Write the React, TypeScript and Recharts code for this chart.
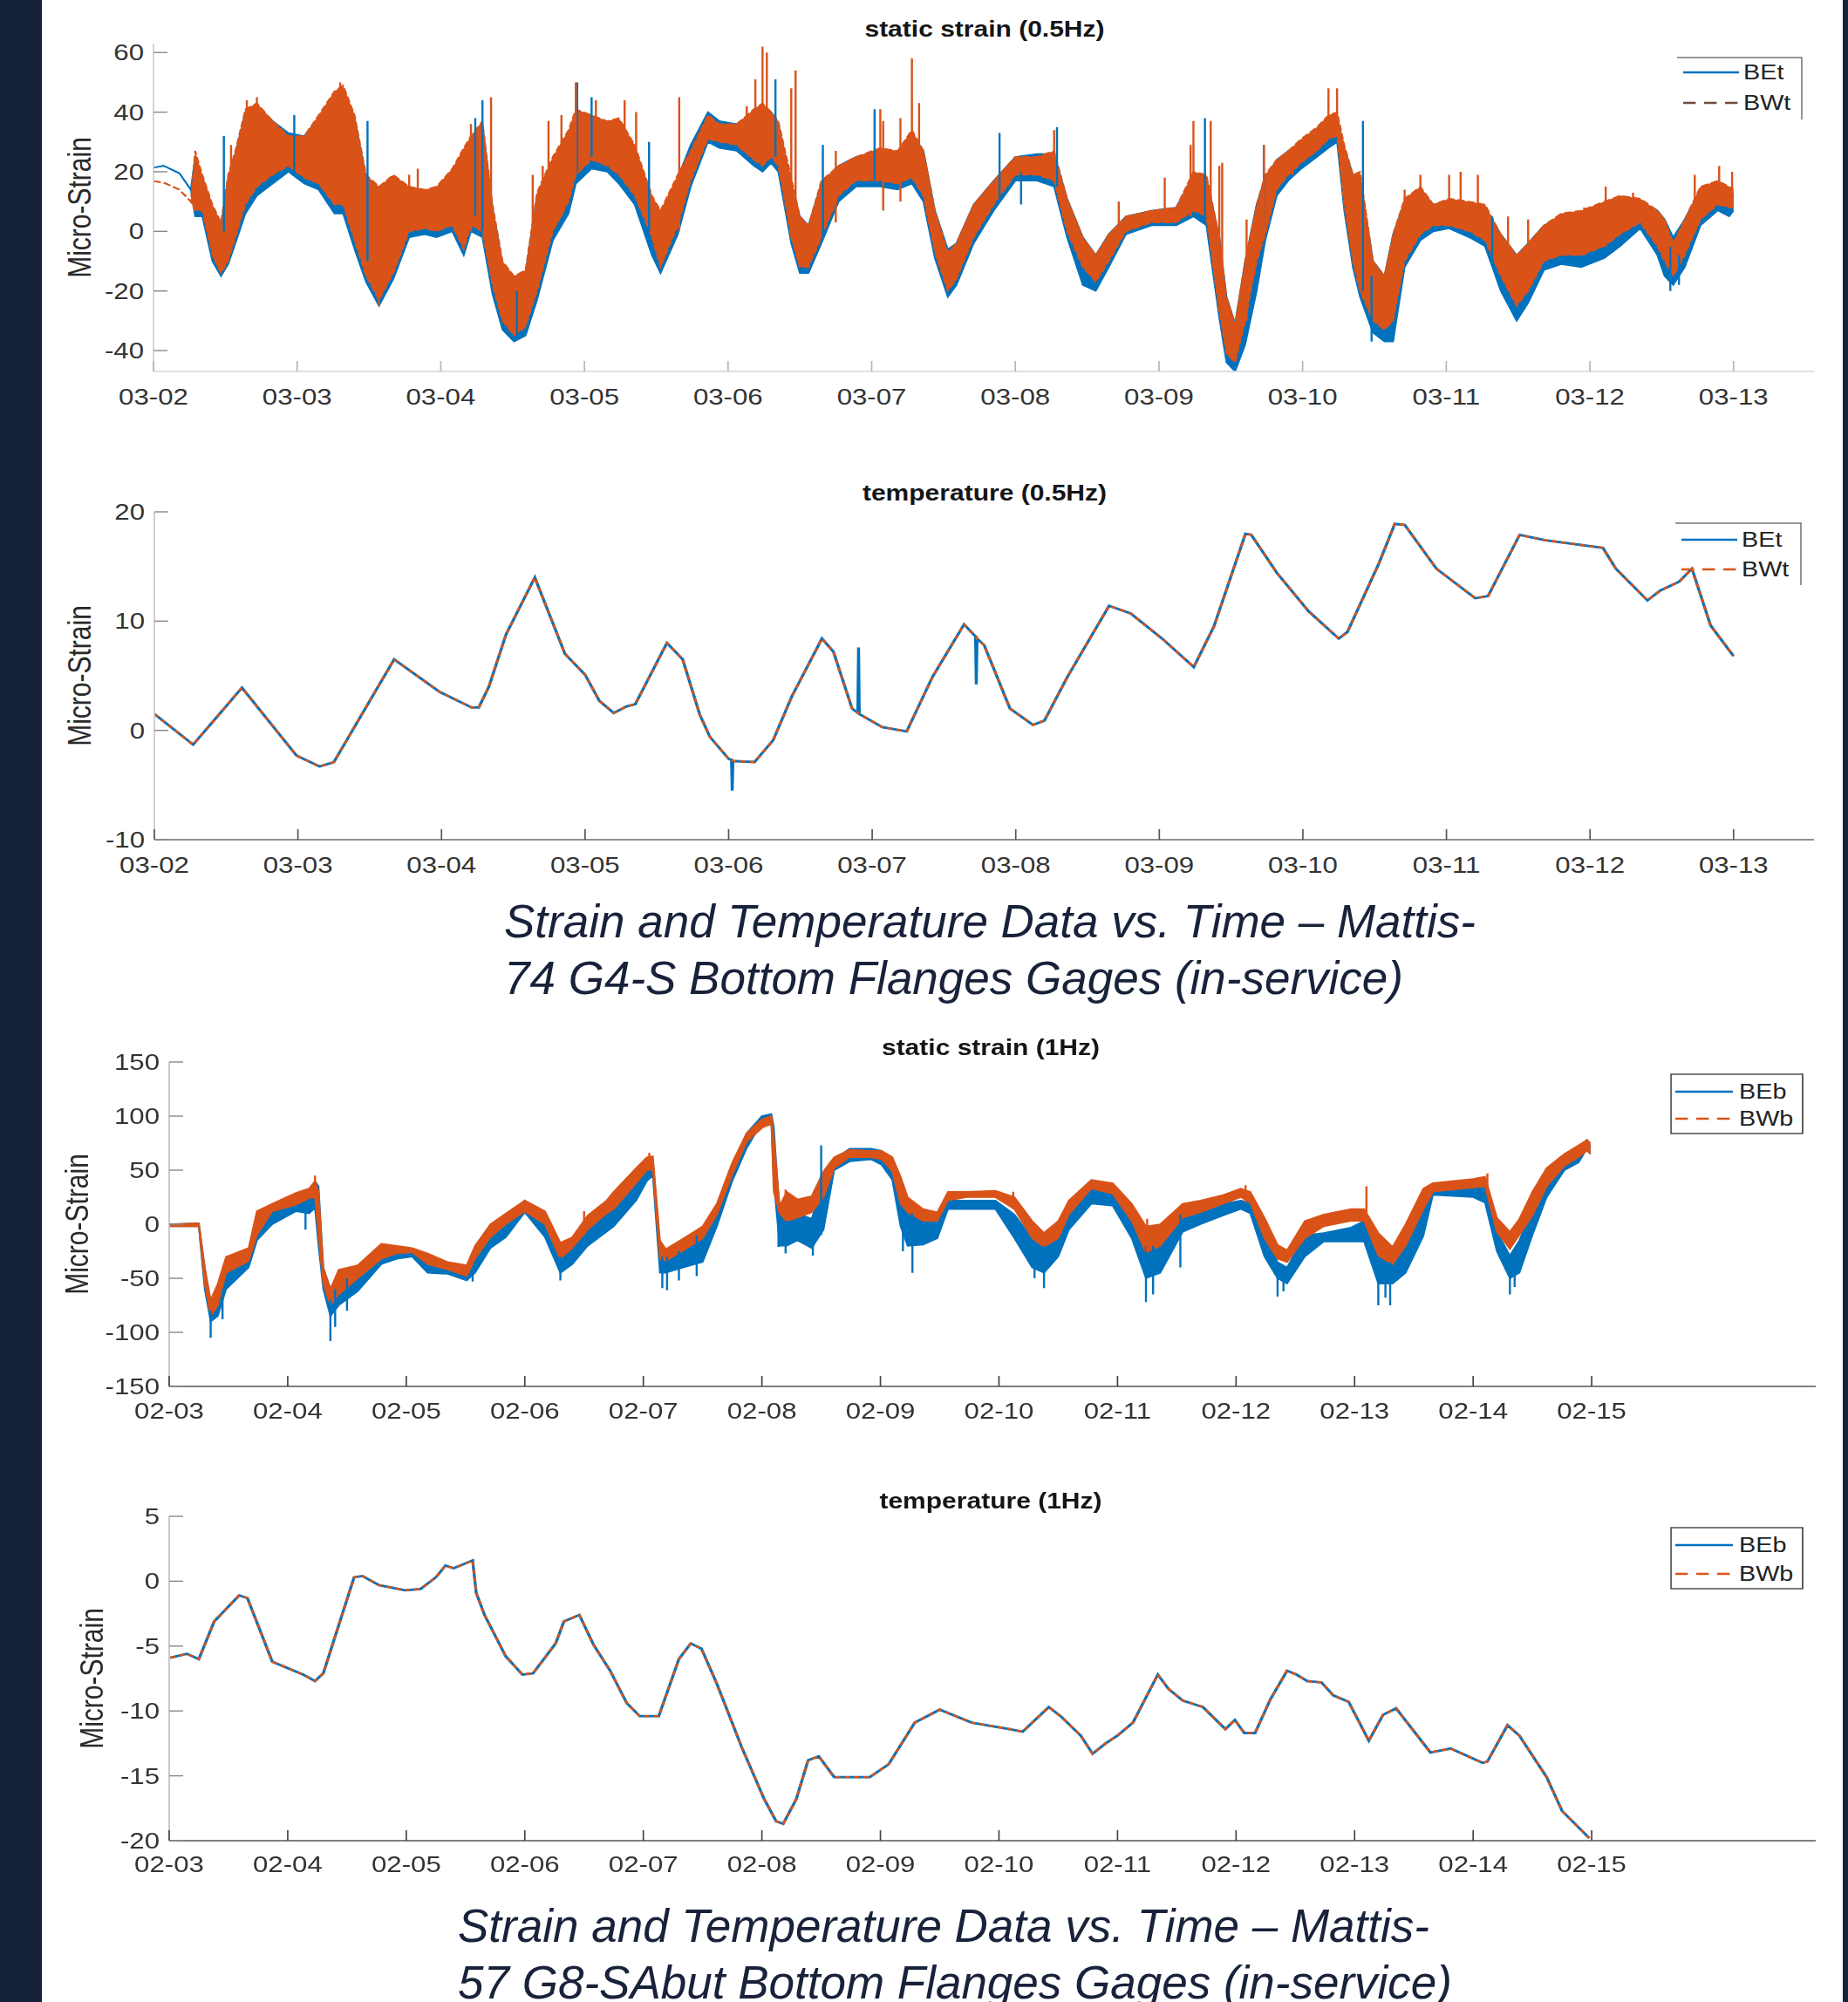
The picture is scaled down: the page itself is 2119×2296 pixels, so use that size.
import React from 'react';
import { ComposedChart, Area, Line, XAxis, YAxis } from 'recharts';

const PAGE_W = 2119;
const PAGE_H = 2296;
// plots are laid out narrow and widened on the slide
const STRETCH = 1.2;
const CHART_W = PAGE_W / STRETCH;
const Y_AXIS_W = 60;
const X_AXIS_H = 40;

const BLUE = '#0072BD';
const ORANGE = '#D95319';
const NAVY = '#16213a';
const FONT = '"Liberation Sans", Arial, Helvetica, sans-serif';

const marchLabels = ['03-02', '03-03', '03-04', '03-05', '03-06', '03-07', '03-08', '03-09', '03-10', '03-11', '03-12', '03-13'];
const febLabels = ['02-03', '02-04', '02-05', '02-06', '02-07', '02-08', '02-09', '02-10', '02-11', '02-12', '02-13', '02-14', '02-15'];

// static strain, 0.5Hz: [day, BEt low, BEt high, BWt low, BWt high]
const strain05 = [
  [0.0, 21.4, 21.4, 16.8, 16.8],
  [0.07, 22.0, 22.0, 16.4, 16.4],
  [0.18, 19.5, 19.5, 14.0, 14.0],
  [0.26, 14.0, 14.0, 10.0, 10.0],
  [0.29, 5, 25, 7, 27],
  [0.34, 5, 18, 7, 19],
  [0.41, -10, 8, -8, 9],
  [0.47, -15, 2, -14, 3],
  [0.52, -11, 18, -10, 19],
  [0.57, -4, 26, -2, 27],
  [0.64, 6, 40, 9, 41],
  [0.72, 12, 42, 15, 43],
  [0.83, 16, 37, 19, 37],
  [0.94, 20, 33, 22, 32],
  [1.05, 16, 32, 18, 32],
  [1.15, 14, 38, 16, 39],
  [1.26, 6, 46, 9, 47],
  [1.32, 6, 48, 9, 49],
  [1.4, -6, 38, -3, 39],
  [1.48, -17, 18, -15, 19],
  [1.57, -25, 14, -23, 15],
  [1.67, -16, 18, -14, 19],
  [1.78, -2, 14, 0, 15],
  [1.89, -1, 13, 1, 14],
  [1.97, -2, 14, 0, 15],
  [2.08, 0, 20, 2, 21],
  [2.16, -8, 27, -6, 28],
  [2.21, 0, 31, 2, 32],
  [2.29, -2, 36, 0, 37],
  [2.36, -21, 8, -18, 9],
  [2.43, -33, -11, -30, -10],
  [2.51, -37, -16, -35, -15],
  [2.59, -35, -14, -32, -13],
  [2.67, -23, 12, -20, 13],
  [2.78, -3, 24, 0, 25],
  [2.89, 6, 33, 10, 34],
  [2.94, 16, 40, 19, 41],
  [3.05, 21, 38, 24, 39],
  [3.16, 20, 36, 22, 37],
  [3.24, 16, 37, 19, 38],
  [3.35, 9, 28, 12, 29],
  [3.47, -8, 11, -2, 12],
  [3.53, -14, 6, -12, 7],
  [3.65, -1, 18, 2, 19],
  [3.74, 15, 29, 17, 27],
  [3.86, 30, 40, 31, 39],
  [3.94, 28, 37, 30, 36],
  [4.06, 27, 36, 29, 36],
  [4.18, 22, 40, 24, 41],
  [4.24, 20, 42, 22, 43],
  [4.3, 23, 40, 25, 40],
  [4.35, 20, 36, 22, 37],
  [4.44, -4, 16, -2, 18],
  [4.5, -14, 5, -12, 5],
  [4.56, -14, 2, -12, 2],
  [4.65, -4, 16, -2, 17],
  [4.77, 10, 22, 12, 22],
  [4.89, 15, 25, 17, 25],
  [5.06, 15, 27, 17, 28],
  [5.18, 14, 26, 16, 27],
  [5.28, 16, 33, 18, 34],
  [5.36, 10, 27, 12, 27],
  [5.44, -9, 7, -7, 7],
  [5.53, -22, -6, -20, -7],
  [5.59, -18, -4, -16, -4],
  [5.71, -4, 9, -2, 9],
  [5.85, 7, 17, 9, 17],
  [6.0, 17, 25, 19, 25],
  [6.15, 17, 26, 19, 25],
  [6.27, 15, 26, 17, 27],
  [6.36, -2, 11, 0, 11],
  [6.47, -18, -2, -12, -2],
  [6.56, -20, -8, -17, -8],
  [6.65, -12, -1, -10, -1],
  [6.77, -1, 5, 0, 5],
  [6.95, 2, 7, 3, 7],
  [7.12, 2, 8, 3, 8],
  [7.24, 5, 19, 7, 20],
  [7.33, 2, 18, 5, 19],
  [7.42, -29, -2, -27, -2],
  [7.47, -44, -22, -41, -22],
  [7.53, -47, -31, -44, -31],
  [7.6, -38, -10, -30, -10],
  [7.68, -20, 9, -10, 9],
  [7.74, -3, 18, -1, 19],
  [7.82, 12, 24, 14, 24],
  [7.9, 17, 27, 19, 27],
  [7.99, 21, 30, 23, 31],
  [8.1, 25, 34, 27, 35],
  [8.18, 28, 38, 31, 39],
  [8.24, 30, 38, 32, 40],
  [8.29, 7, 28, 9, 29],
  [8.35, -12, 19, -10, 19],
  [8.4, -22, 18, -20, 20],
  [8.49, -34, -10, -30, -10],
  [8.57, -37, -15, -33, -15],
  [8.63, -37, -1, -30, -1],
  [8.71, -12, 10, -10, 11],
  [8.82, -3, 14, -1, 15],
  [8.91, 0, 9, 2, 9],
  [9.02, 1, 10, 2, 11],
  [9.16, -2, 9, 0, 10],
  [9.27, -5, 8, -3, 9],
  [9.38, -20, -1, -15, -1],
  [9.49, -30, -8, -25, -8],
  [9.57, -24, -4, -20, -4],
  [9.68, -13, 2, -10, 2],
  [9.8, -11, 5, -8, 6],
  [9.94, -12, 6, -8, 7],
  [10.1, -9, 9, -5, 10],
  [10.21, -5, 11, -1, 12],
  [10.35, 1, 10, 3, 11],
  [10.47, -8, 7, -5, 7],
  [10.52, -15, 4, -10, 4],
  [10.58, -18, -2, -15, -4],
  [10.66, -12, 4, -8, 4],
  [10.77, 2, 14, 4, 15],
  [10.89, 7, 16, 9, 17],
  [10.97, 5, 14, 8, 15],
  [11.0, 7, 12, 8, 14],
];

// isolated excursions, 0.5Hz: [day, from, to]
const spikes05BEt = [
  [0.49, 0, 32], [0.98, 20, 39], [1.49, -10, 37], [2.24, 5, 38], [2.29, 0, 44],
  [2.53, -35, -20], [2.95, 20, 50], [3.05, 25, 45], [3.45, 0, 30], [4.33, 25, 51],
  [4.66, -2, 29], [5.02, 17, 41], [5.89, 10, 33], [6.04, 9, 20], [6.29, 15, 35],
  [7.32, 5, 38], [7.73, 0, 29], [8.42, -20, 37], [8.48, -37, -15], [9.32, -10, 5],
  [10.56, -20, -5], [10.62, -18, -8],
];
const spikes05BWt = [
  [0.54, 0, 29], [0.65, 10, 44], [0.72, 15, 45], [1.3, 10, 50], [1.57, -25, 0],
  [1.78, 0, 19], [1.84, 0, 21], [2.21, 0, 36], [2.35, -10, 45], [2.64, -20, 19],
  [2.71, -10, 22], [2.75, 0, 37], [2.84, 5, 39], [2.94, 20, 50], [3.08, 25, 44],
  [3.28, 20, 44], [3.36, 12, 40], [3.66, 0, 45], [4.13, 28, 42], [4.19, 25, 51],
  [4.24, 22, 62], [4.27, 25, 60], [4.44, -2, 48], [4.47, 0, 54], [4.75, 3, 27],
  [5.06, 17, 41], [5.08, 7, 37], [5.2, 10, 38], [5.28, 18, 58], [5.33, 15, 43],
  [6.27, 17, 34], [6.72, 0, 10], [7.04, 3, 18], [7.22, 5, 29], [7.24, 7, 37],
  [7.36, 5, 37], [7.42, -20, 22], [7.44, -25, 23], [7.61, -30, 4], [7.73, -1, 29],
  [7.93, 19, 23], [8.17, 30, 35], [8.18, 31, 48], [8.24, 32, 48], [8.27, 20, 29],
  [8.71, -10, 14], [8.82, -1, 19], [9.02, 2, 19], [9.1, 2, 20], [9.22, 0, 19],
  [9.43, -20, 5], [9.57, -20, 4], [9.83, -8, 4], [9.96, -8, 8], [10.11, -5, 15],
  [10.3, 3, 13], [10.73, 4, 19], [10.9, 9, 22], [10.99, 8, 20],
];

// temperature, 0.5Hz: [day, BEt, BWt]
const temp05 = [
  [0, 1.5, 1.5], [0.27, -1.3, -1.3], [0.61, 3.9, 3.9], [0.99, -2.3, -2.3],
  [1.15, -3.3, -3.3], [1.25, -2.9, -2.9], [1.67, 6.5, 6.5], [1.99, 3.5, 3.5],
  [2.21, 2.1, 2.1], [2.26, 2.1, 2.1], [2.33, 4.0, 4.0], [2.45, 8.8, 8.8],
  [2.65, 14.0, 14.0], [2.86, 7.0, 7.0], [3.0, 5.1, 5.1], [3.1, 2.7, 2.7],
  [3.2, 1.6, 1.6], [3.29, 2.2, 2.2], [3.35, 2.4, 2.4], [3.57, 8.0, 8.0],
  [3.68, 6.5, 6.5], [3.8, 1.4, 1.4], [3.87, -0.6, -0.6], [4.0, -2.6, -2.6],
  [4.02, -2.7, -2.7], [4.025, -5.5, -2.7], [4.03, -2.8, -2.8], [4.18, -2.9, -2.9],
  [4.31, -0.9, -0.9], [4.44, 3.1, 3.1], [4.65, 8.4, 8.4], [4.73, 7.2, 7.2],
  [4.86, 2.0, 2.0], [4.9, 1.6, 1.6], [4.905, 7.6, 1.6], [4.91, 1.5, 1.5],
  [5.07, 0.3, 0.3], [5.24, -0.1, -0.1], [5.42, 4.9, 4.9], [5.64, 9.7, 9.7],
  [5.72, 8.6, 8.6], [5.725, 4.2, 8.6], [5.73, 8.4, 8.4], [5.78, 7.8, 7.8],
  [5.96, 2.0, 2.0], [6.12, 0.5, 0.5], [6.2, 0.9, 0.9], [6.36, 4.9, 4.9],
  [6.65, 11.4, 11.4], [6.8, 10.7, 10.7], [7.02, 8.4, 8.4], [7.24, 5.8, 5.8],
  [7.38, 9.5, 9.5], [7.6, 18.0, 18.0], [7.64, 17.9, 17.9], [7.82, 14.4, 14.4],
  [8.04, 10.9, 10.9], [8.25, 8.4, 8.4], [8.31, 9.0, 9.0], [8.53, 15.3, 15.3],
  [8.64, 18.9, 18.9], [8.71, 18.8, 18.8], [8.93, 14.8, 14.8], [9.2, 12.1, 12.1],
  [9.29, 12.3, 12.3], [9.51, 17.9, 17.9], [9.69, 17.4, 17.4], [10.09, 16.7, 16.7],
  [10.18, 14.8, 14.8], [10.4, 11.9, 11.9], [10.49, 12.8, 12.8], [10.62, 13.6, 13.6],
  [10.71, 14.8, 14.8], [10.84, 9.6, 9.6], [11.0, 6.8, 6.8],
];

// static strain, 1Hz: [day, BEb low, BEb high, BWb low, BWb high]
const strain1 = [
  [0.0, -2, 0, -2, 0],
  [0.25, -2, 1, -2, 1],
  [0.3, -60, -40, -55, -40],
  [0.35, -90, -75, -85, -70],
  [0.41, -85, -60, -75, -55],
  [0.48, -60, -40, -45, -30],
  [0.67, -40, -25, -34, -22],
  [0.74, -15, 10, -10, 12],
  [0.87, 0, 12, 12, 19],
  [1.07, 12, 20, 18, 29],
  [1.18, 10, 27, 24, 33],
  [1.23, 15, 40, 25, 40],
  [1.26, -20, 35, -10, 30],
  [1.3, -60, -40, -55, -40],
  [1.36, -85, -60, -75, -60],
  [1.43, -75, -45, -65, -42],
  [1.59, -62, -40, -50, -38],
  [1.79, -37, -20, -32, -18],
  [1.92, -32, -27, -27, -20],
  [2.05, -30, -25, -26, -22],
  [2.18, -45, -35, -37, -27],
  [2.35, -46, -40, -42, -35],
  [2.51, -52, -42, -48, -38],
  [2.58, -45, -25, -32, -20],
  [2.71, -22, -5, -12, 0],
  [2.84, -12, 5, 0, 10],
  [3.0, 11, 22, 12, 22],
  [3.17, -12, 5, 0, 12],
  [3.3, -45, -27, -32, -17],
  [3.4, -37, -22, -22, -12],
  [3.53, -20, 0, -5, 8],
  [3.69, -7, 15, 10, 22],
  [3.75, -2, 25, 14, 30],
  [3.94, 22, 41, 38, 52],
  [4.03, 40, 60, 50, 62],
  [4.08, 45, 60, 50, 63],
  [4.14, -45, -20, -32, -15],
  [4.19, -45, -30, -34, -23],
  [4.34, -40, -18, -24, -13],
  [4.5, -35, -5, -13, -2],
  [4.62, -2, 12, 9, 19],
  [4.75, 40, 52, 46, 57],
  [4.87, 70, 84, 76, 84],
  [5.0, 94, 100, 89, 97],
  [5.08, 95, 102, 93, 100],
  [5.1, 40, 90, 30, 80],
  [5.15, -20, 9, 10, 17],
  [5.21, -20, 10, 3, 30],
  [5.3, -15, 10, 6, 23],
  [5.42, -22, 5, 11, 26],
  [5.52, -5, 40, 25, 49],
  [5.61, 50, 60, 52, 62],
  [5.74, 58, 70, 62, 69],
  [5.92, 60, 70, 62, 68],
  [6.01, 55, 68, 60, 68],
  [6.1, 41, 57, 49, 62],
  [6.17, -2, 30, 19, 44],
  [6.23, -20, 15, 11, 25],
  [6.36, -19, 8, 3, 14],
  [6.48, -13, 3, 3, 11],
  [6.57, 14, 22, 22, 30],
  [6.73, 14, 22, 25, 30],
  [6.97, 14, 22, 25, 31],
  [7.13, -13, 9, 14, 25],
  [7.28, -40, -13, -13, 3],
  [7.38, -45, -20, -21, -8],
  [7.5, -30, -5, -13, 3],
  [7.59, -5, 10, 9, 22],
  [7.78, 19, 33, 33, 41],
  [7.96, 17, 30, 28, 38],
  [8.12, -13, 14, 3, 19],
  [8.24, -50, -5, -26, -2],
  [8.36, -45, -5, -20, 0],
  [8.55, -7, 9, 6, 19],
  [8.7, 0, 11, 11, 22],
  [8.89, 8, 19, 19, 27],
  [9.04, 14, 22, 25, 33],
  [9.12, 10, 20, 20, 30],
  [9.24, -30, -5, -13, 6],
  [9.35, -50, -35, -32, -19],
  [9.43, -55, -40, -35, -24],
  [9.58, -30, -10, -13, 3],
  [9.74, -16, -8, -2, 9],
  [9.97, -16, -3, 3, 14],
  [10.08, -16, 3, 3, 14],
  [10.2, -55, -30, -29, -8],
  [10.32, -55, -35, -37, -21],
  [10.43, -45, -20, -20, 0],
  [10.58, -11, 19, 14, 33],
  [10.66, 27, 34, 30, 38],
  [11.0, 25, 34, 34, 42],
  [11.1, 20, 35, 35, 44],
  [11.2, -25, -7, -7, 6],
  [11.31, -50, -29, -23, -7],
  [11.39, -45, -15, -10, 5],
  [11.5, -10, 15, 8, 30],
  [11.62, 25, 41, 35, 52],
  [11.77, 50, 62, 54, 65],
  [11.89, 57, 68, 62, 73],
  [11.96, 70, 78, 68, 78],
  [11.99, 65, 72, 65, 75],
];

// isolated excursions, 1Hz: [day, from, to]
const spikes1BEb = [
  [0.35, -105, -80], [0.45, -88, -60], [1.15, -5, 20], [1.36, -108, -70], [1.4, -95, -60],
  [1.5, -80, -50], [2.56, -53, -40], [3.3, -52, -30], [4.16, -59, -30], [4.2, -61, -30],
  [4.3, -52, -25], [4.45, -48, -10], [5.14, -21, 9], [5.2, -27, 5], [5.43, -29, 5],
  [5.5, -10, 73], [6.19, -25, 10], [6.27, -45, 10], [7.3, -50, -20], [7.38, -59, -20],
  [8.24, -72, -20], [8.3, -65, -20], [8.53, -40, 9], [9.35, -67, -35], [9.4, -62, -40],
  [10.2, -75, -30], [10.3, -75, -35], [10.26, -68, -35], [11.31, -65, -29], [11.35, -58, -25],
];
const spikes1BWb = [
  [1.23, 25, 45], [3.5, -10, 12], [4.05, 50, 66], [5.2, 3, 32], [7.12, 14, 30],
  [8.25, -26, 5], [9.08, 20, 36], [10.1, 3, 35], [11.12, 35, 47],
];

// temperature, 1Hz: [day, BEb, BWb]
const temp1 = [
  [0.01, -5.9, -5.9], [0.15, -5.6, -5.6], [0.25, -6.0, -6.0], [0.38, -3.1, -3.1],
  [0.59, -1.1, -1.1], [0.66, -1.3, -1.3], [0.87, -6.2, -6.2], [1.13, -7.2, -7.2],
  [1.23, -7.7, -7.7], [1.3, -7.1, -7.1], [1.56, 0.3, 0.3], [1.63, 0.4, 0.4],
  [1.77, -0.3, -0.3], [1.99, -0.7, -0.7], [2.12, -0.6, -0.6], [2.25, 0.3, 0.3],
  [2.33, 1.2, 1.2], [2.4, 1.0, 1.0], [2.56, 1.6, 1.6], [2.59, -0.9, -0.9],
  [2.66, -2.6, -2.6], [2.84, -5.8, -5.8], [2.98, -7.2, -7.2], [3.07, -7.1, -7.1],
  [3.26, -4.8, -4.8], [3.33, -3.1, -3.1], [3.46, -2.6, -2.6], [3.58, -4.9, -4.9],
  [3.72, -6.9, -6.9], [3.86, -9.4, -9.4], [3.97, -10.4, -10.4], [4.13, -10.4, -10.4],
  [4.3, -6.0, -6.0], [4.4, -4.8, -4.8], [4.49, -5.2, -5.2], [4.62, -7.9, -7.9],
  [4.83, -12.8, -12.8], [5.02, -16.8, -16.8], [5.12, -18.5, -18.5], [5.18, -18.7, -18.7],
  [5.29, -16.8, -16.8], [5.39, -13.8, -13.8], [5.48, -13.5, -13.5], [5.61, -15.1, -15.1],
  [5.91, -15.1, -15.1], [6.07, -14.1, -14.1], [6.29, -10.9, -10.9], [6.5, -9.9, -9.9],
  [6.77, -10.9, -10.9], [7.09, -11.4, -11.4], [7.2, -11.6, -11.6], [7.42, -9.7, -9.7],
  [7.52, -10.4, -10.4], [7.69, -11.9, -11.9], [7.79, -13.3, -13.3], [7.9, -12.5, -12.5],
  [8.0, -11.9, -11.9], [8.13, -10.9, -10.9], [8.34, -7.2, -7.2], [8.43, -8.3, -8.3],
  [8.55, -9.2, -9.2], [8.72, -9.7, -9.7], [8.91, -11.4, -11.4], [8.99, -10.7, -10.7],
  [9.07, -11.7, -11.7], [9.16, -11.7, -11.7], [9.29, -9.1, -9.1], [9.43, -6.9, -6.9],
  [9.51, -7.2, -7.2], [9.6, -7.7, -7.7], [9.72, -7.8, -7.8], [9.82, -8.8, -8.8],
  [9.95, -9.3, -9.3], [10.12, -12.3, -12.3], [10.24, -10.3, -10.3], [10.35, -9.8, -9.8],
  [10.64, -13.2, -13.2], [10.81, -12.9, -12.9], [11.08, -14.0, -14.0], [11.12, -13.9, -13.9],
  [11.29, -11.1, -11.1], [11.39, -11.9, -11.9], [11.62, -15.1, -15.1], [11.75, -17.7, -17.7],
  [11.98, -19.8, -19.8],
];

const bandRows = (rows: number[][]) =>
  rows.map(([t, a, b, c, d]) => ({ t, be: [a, b], bw: [c, d] }));
const lineRows = (rows: number[][]) => rows.map(([t, be, bw]) => ({ t, be, bw }));
// each excursion is a vertical stroke; the null row breaks the path between strokes
const spikeRows = (rows: number[][]) =>
  rows.flatMap(([t, a, b]) => [{ t, v: a }, { t, v: b }, { t, v: null }]);

type LegendSpec = {
  names: [string, string];
  x0: number; x1: number; y0: number; y1: number;
  rows: [number, number];
  lineX: [number, number];
  textX: number;
  fullBox: boolean;
  dashColor: string;
};

type PanelProps = {
  top: number;
  height: number;
  plotLeft: number;
  plotRight: number;
  plotTop: number;
  plotBottom: number;
  xMax: number;
  dayLabels: string[];
  yDomain: [number, number];
  yTicks: number[];
  labelGap: number;
  xAxisColor: string;
  yAxisColor: string;
  xTickColor: string;
  title: string;
  titleX: number;
  titleY: number;
  yLabelX: number;
  legend: LegendSpec;
  data: any[];
  children: React.ReactNode;
};

const sx = (x: number) => x / STRETCH;

function Panel(p: PanelProps) {
  const xTick = (t: any) => (
    <g>
      <line x1={t.x} x2={t.x} y1={t.y} y2={t.y - 12} stroke={p.xTickColor} strokeWidth={1.4} />
      <text x={t.x} y={t.y + p.labelGap} textAnchor="middle" dominantBaseline="central"
        fontSize={26} fontFamily={FONT} fill="#333">
        {p.dayLabels[t.payload.value]}
      </text>
    </g>
  );
  const yTick = (t: any) => (
    <g>
      <line x1={t.x} x2={t.x + sx(16)} y1={t.y} y2={t.y} stroke="#888" strokeWidth={1.4} />
      <text x={t.x - sx(11)} y={t.y} textAnchor="end" dominantBaseline="central"
        fontSize={26} fontFamily={FONT} fill="#333">
        {t.payload.value}
      </text>
    </g>
  );
  const lg = p.legend;
  const ly = (y: number) => y - p.top;
  return (
    <div style={{
      position: 'absolute', left: 0, top: p.top, width: CHART_W, height: p.height,
      transform: `scaleX(${STRETCH})`, transformOrigin: '0 0',
    }}>
      <ComposedChart
        width={CHART_W}
        height={p.height}
        data={p.data}
        margin={{
          top: p.plotTop - p.top,
          bottom: p.top + p.height - p.plotBottom - X_AXIS_H,
          left: sx(p.plotLeft) - Y_AXIS_W,
          right: sx(PAGE_W - p.plotRight),
        }}
      >
        <XAxis type="number" dataKey="t" domain={[0, p.xMax]} allowDataOverflow
          ticks={p.dayLabels.map((_, i) => i)} interval={0} height={X_AXIS_H}
          tickSize={0} tickMargin={0} tick={xTick} tickLine={false}
          axisLine={{ stroke: p.xAxisColor, strokeWidth: 1.6 }} />
        <YAxis type="number" domain={p.yDomain} allowDataOverflow ticks={p.yTicks}
          interval={0} width={Y_AXIS_W} tickSize={0} tickMargin={0} tick={yTick} tickLine={false}
          axisLine={{ stroke: p.yAxisColor, strokeWidth: 1.4 }} />
        {p.children}
      </ComposedChart>

      <div style={{
        position: 'absolute', left: sx(p.titleX) - 300, width: 600, top: p.titleY - p.top - 15,
        textAlign: 'center', fontFamily: FONT, fontWeight: 'bold', fontSize: 25,
        lineHeight: '30px', color: '#151515',
      }}>{p.title}</div>

      <div style={{
        position: 'absolute', left: sx(p.yLabelX), top: (p.plotTop + p.plotBottom) / 2 - p.top,
        transform: 'translate(-50%, -50%) rotate(-90deg)', whiteSpace: 'nowrap',
        fontFamily: FONT, fontSize: 30, color: '#2a2a2a',
      }}>Micro-Strain</div>

      <svg width={CHART_W} height={p.height}
        style={{ position: 'absolute', left: 0, top: 0, pointerEvents: 'none' }}>
        {lg.fullBox ? (
          <rect x={sx(lg.x0)} y={ly(lg.y0)} width={sx(lg.x1 - lg.x0)} height={lg.y1 - lg.y0}
            fill="#fff" stroke="#333" strokeWidth={1.3} />
        ) : (
          <polyline
            points={`${sx(lg.x0)},${ly(lg.y0)} ${sx(lg.x1)},${ly(lg.y0)} ${sx(lg.x1)},${ly(lg.y1)}`}
            fill="none" stroke="#777" strokeWidth={1.3} />
        )}
        <line x1={sx(lg.lineX[0])} x2={sx(lg.lineX[1])} y1={ly(lg.rows[0])} y2={ly(lg.rows[0])}
          stroke={BLUE} strokeWidth={2.6} />
        <line x1={sx(lg.lineX[0])} x2={sx(lg.lineX[1])} y1={ly(lg.rows[1])} y2={ly(lg.rows[1])}
          stroke={lg.dashColor} strokeWidth={2.6} strokeDasharray="12 8" />
        {lg.names.map((n, i) => (
          <text key={n} x={sx(lg.textX)} y={ly(lg.rows[i])} dominantBaseline="central"
            fontFamily={FONT} fontSize={24} fill="#222">{n}</text>
        ))}
      </svg>
    </div>
  );
}

const bandSeries = (dash: string, beSpikes: number[][], bwSpikes: number[][]) => [
  <Area key="be" type="linear" dataKey="be" stroke={BLUE} strokeWidth={1.6} fill={BLUE}
    fillOpacity={1} dot={false} activeDot={false} isAnimationActive={false} />,
  <Line key="be-spikes" type="linear" data={spikeRows(beSpikes)} dataKey="v" stroke={BLUE}
    strokeWidth={2} dot={false} activeDot={false} connectNulls={false} isAnimationActive={false} />,
  <Area key="bw" type="linear" dataKey="bw" stroke={ORANGE} strokeWidth={1.6} fill={ORANGE}
    fillOpacity={1} dot={false} activeDot={false} isAnimationActive={false}
    strokeDasharray={dash} />,
  <Line key="bw-spikes" type="linear" data={spikeRows(bwSpikes)} dataKey="v" stroke={ORANGE}
    strokeWidth={2} dot={false} activeDot={false} connectNulls={false} isAnimationActive={false} />,
];

const lineSeries = () => [
  <Line key="be" type="linear" dataKey="be" stroke={BLUE} strokeWidth={2.8} dot={false}
    activeDot={false} isAnimationActive={false} />,
  <Line key="bw" type="linear" dataKey="bw" stroke={ORANGE} strokeWidth={2.4} dot={false}
    activeDot={false} isAnimationActive={false} strokeDasharray="5 4" />,
];

export default function App() {
  return (
    <div style={{
      position: 'absolute', left: 0, top: 0, width: PAGE_W, height: PAGE_H,
      background: '#ffffff', overflow: 'hidden', fontFamily: FONT,
    }}>
      <div style={{ position: 'absolute', left: 0, top: 0, width: 48, height: PAGE_H, background: NAVY }} />
      <div style={{ position: 'absolute', left: 2113, top: 0, width: 6, height: PAGE_H, background: NAVY }} />

      <Panel top={0} height={480} plotLeft={176} plotRight={2080} plotTop={50} plotBottom={426}
        xMax={11.56} dayLabels={marchLabels} yDomain={[-47, 63]} yTicks={[-40, -20, 0, 20, 40, 60]}
        labelGap={29} xAxisColor="#d6d6d6" yAxisColor="#cfcfcf" xTickColor="#b5b5b5"
        title="static strain (0.5Hz)" titleX={1129} titleY={33} yLabelX={92}
        legend={{ names: ['BEt', 'BWt'], x0: 1923, x1: 2066, y0: 66, y1: 137, rows: [83, 118],
          lineX: [1930, 1994], textX: 1999, fullBox: false, dashColor: '#6e4b3c' }}
        data={bandRows(strain05)}>
        {bandSeries('7 3', spikes05BEt, spikes05BWt)}
      </Panel>

      <Panel top={540} height={480} plotLeft={177} plotRight={2080} plotTop={587} plotBottom={963}
        xMax={11.56} dayLabels={marchLabels} yDomain={[-10, 20]} yTicks={[-10, 0, 10, 20]}
        labelGap={29} xAxisColor="#6a6a6a" yAxisColor="#c8c8c8" xTickColor="#555"
        title="temperature (0.5Hz)" titleX={1129} titleY={565} yLabelX={92}
        legend={{ names: ['BEt', 'BWt'], x0: 1921, x1: 2065, y0: 600, y1: 671, rows: [619, 653],
          lineX: [1928, 1992], textX: 1997, fullBox: false, dashColor: ORANGE }}
        data={lineRows(temp05)}>
        {lineSeries()}
      </Panel>

      <div style={{
        position: 'absolute', left: 578, top: 1024, fontSize: 53, lineHeight: '65px',
        fontStyle: 'italic', color: '#18223a', whiteSpace: 'nowrap',
      }}>
        Strain and Temperature Data vs. Time – Mattis-<br />74 G4-S Bottom Flanges Gages (in-service)
      </div>

      <Panel top={1180} height={460} plotLeft={194} plotRight={2082} plotTop={1218} plotBottom={1590}
        xMax={13.89} dayLabels={febLabels} yDomain={[-150, 150]} yTicks={[-150, -100, -50, 0, 50, 100, 150]}
        labelGap={28} xAxisColor="#555" yAxisColor="#c0c0c0" xTickColor="#444"
        title="static strain (1Hz)" titleX={1136} titleY={1201} yLabelX={89}
        legend={{ names: ['BEb', 'BWb'], x0: 1916, x1: 2067, y0: 1232, y1: 1300, rows: [1252, 1283],
          lineX: [1921, 1987], textX: 1994, fullBox: true, dashColor: ORANGE }}
        data={bandRows(strain1)}>
        {bandSeries('none', spikes1BEb, spikes1BWb)}
      </Panel>

      <Panel top={1700} height={460} plotLeft={194} plotRight={2082} plotTop={1739} plotBottom={2111}
        xMax={13.89} dayLabels={febLabels} yDomain={[-20, 5]} yTicks={[-20, -15, -10, -5, 0, 5]}
        labelGap={27} xAxisColor="#555" yAxisColor="#c0c0c0" xTickColor="#444"
        title="temperature (1Hz)" titleX={1136} titleY={1721} yLabelX={105}
        legend={{ names: ['BEb', 'BWb'], x0: 1916, x1: 2067, y0: 1752, y1: 1822, rows: [1772, 1805],
          lineX: [1921, 1987], textX: 1994, fullBox: true, dashColor: ORANGE }}
        data={lineRows(temp1)}>
        {lineSeries()}
      </Panel>

      <div style={{
        position: 'absolute', left: 525, top: 2176, fontSize: 53, lineHeight: '65px',
        fontStyle: 'italic', color: '#18223a', whiteSpace: 'nowrap',
      }}>
        Strain and Temperature Data vs. Time – Mattis-<br />57 G8-SAbut Bottom Flanges Gages (in-service)
      </div>
    </div>
  );
}
